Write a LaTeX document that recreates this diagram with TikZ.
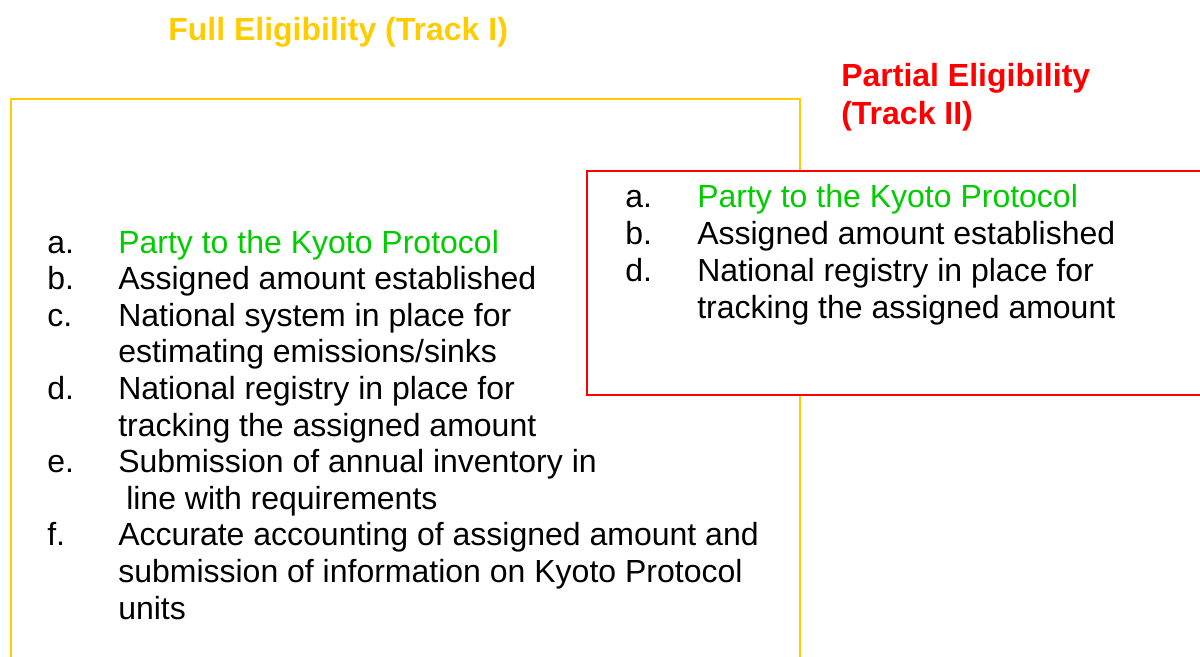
\documentclass[tikz,border=0pt]{standalone}
\usepackage{fontspec}
\setmainfont{Liberation Sans}
\definecolor{trackyellow}{HTML}{FFCC00}
\definecolor{trackred}{HTML}{FF0000}
\definecolor{partygreen}{HTML}{00CC00}
\begin{document}
\begin{tikzpicture}[x=0.75pt,y=-0.75pt,
  txt/.style={anchor=base west,inner sep=0pt,font=\fontsize{24}{28}\selectfont},
  ttl/.style={anchor=base west,inner sep=0pt,font=\fontsize{24}{28}\selectfont\bfseries},
  ybox/.style={draw=trackyellow,line width=1.7pt},
  rbox/.style={draw=trackred,line width=1.7pt,fill=white}]
\useasboundingbox (0,0) rectangle (1200,657);
% Track I box
\draw[ybox] (11,700) -- (11,99) -- (800,99) -- (800,700);
% Track II box
\draw[rbox] (1230,171) -- (587,171) -- (587,395) -- (1230,395);
% titles
\node[ttl,text=trackyellow] (t1) at (168,40) {Full Eligibility (Track I)};
\node[ttl,text=trackred] (t2a) at (841,86) {Partial Eligibility};
\node[ttl,text=trackred] (t2b) at (841,124) {(Track II)};
% left list
\def\ls{36.6}
\node[txt] (la) at (47,253) {a.};
\node[txt,text=partygreen] (lat) at (118,253) {Party to the Kyoto Protocol};
\node[txt] (lb) at (47,253+\ls) {b.};
\node[txt] (lbt) at (118,253+\ls) {Assigned amount established};
\node[txt] (lc) at (47,253+2*\ls) {c.};
\node[txt] (lct) at (118,253+2*\ls) {National system in place for};
\node[txt] (lct2) at (118,253+3*\ls) {estimating emissions/sinks};
\node[txt] (ld) at (47,253+4*\ls) {d.};
\node[txt] (ldt) at (118,253+4*\ls) {National registry in place for};
\node[txt] (ldt2) at (118,253+5*\ls) {tracking the assigned amount};
\node[txt] (le) at (47,253+6*\ls) {e.};
\node[txt] (let) at (118,253+6*\ls) {Submission of annual inventory in};
\node[txt] (let2) at (126,253+7*\ls) {line with requirements};
\node[txt] (lf) at (47,253+8*\ls) {f.};
\node[txt] (lft) at (118,253+8*\ls) {Accurate accounting of assigned amount and};
\node[txt] (lft2) at (118,253+9*\ls) {submission of information on Kyoto Protocol};
\node[txt] (lft3) at (118,253+10*\ls) {units};
% right list
\def\rs{37}
\node[txt] (ra) at (625,207) {a.};
\node[txt,text=partygreen] (rat) at (697,207) {Party to the Kyoto Protocol};
\node[txt] (rb) at (625,207+\rs) {b.};
\node[txt] (rbt) at (697,207+\rs) {Assigned amount established};
\node[txt] (rd) at (625,207+2*\rs) {d.};
\node[txt] (rdt) at (697,207+2*\rs) {National registry in place for};
\node[txt] (rdt2) at (697,207+3*\rs) {tracking the assigned amount};
\end{tikzpicture}
\end{document}
